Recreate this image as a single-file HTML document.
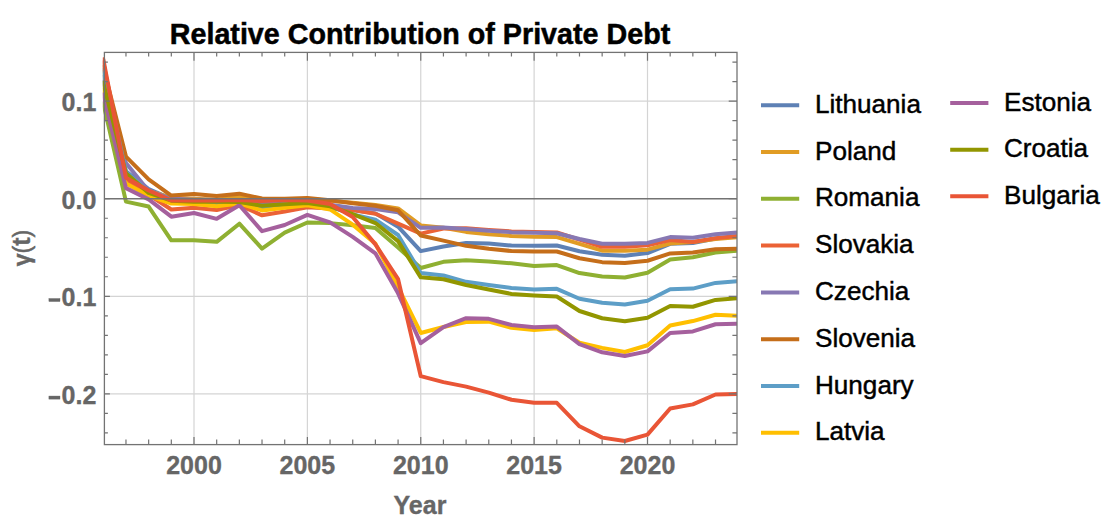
<!DOCTYPE html>
<html><head><meta charset="utf-8"><style>
html,body{margin:0;padding:0;background:#fff;width:1118px;height:524px;overflow:hidden}
svg{display:block}
</style></head><body>
<svg width="1118" height="524" viewBox="0 0 1118 524">
<rect width="1118" height="524" fill="#fff"/>
<defs><clipPath id="pc"><rect x="102.80" y="52.40" width="634.20" height="392.20"/></clipPath></defs>
<line x1="194.00" y1="52.40" x2="194.00" y2="444.60" stroke="#d4d4d4" stroke-width="1.2"/>
<line x1="307.38" y1="52.40" x2="307.38" y2="444.60" stroke="#d4d4d4" stroke-width="1.2"/>
<line x1="420.75" y1="52.40" x2="420.75" y2="444.60" stroke="#d4d4d4" stroke-width="1.2"/>
<line x1="534.12" y1="52.40" x2="534.12" y2="444.60" stroke="#d4d4d4" stroke-width="1.2"/>
<line x1="647.50" y1="52.40" x2="647.50" y2="444.60" stroke="#d4d4d4" stroke-width="1.2"/>
<line x1="104.40" y1="101.18" x2="737.00" y2="101.18" stroke="#d4d4d4" stroke-width="1.2"/>
<line x1="104.40" y1="296.28" x2="737.00" y2="296.28" stroke="#d4d4d4" stroke-width="1.2"/>
<line x1="104.40" y1="393.83" x2="737.00" y2="393.83" stroke="#d4d4d4" stroke-width="1.2"/>
<g clip-path="url(#pc)" fill="none" stroke-width="4.00" stroke-linejoin="round" stroke-linecap="round">
<polyline stroke="#5E81B5" points="103.30,76.79 125.97,171.42 148.65,188.97 171.32,198.73 194.00,200.68 216.68,200.68 239.35,199.71 262.02,201.66 284.70,200.68 307.38,199.71 330.05,208.00 352.73,209.95 375.40,213.36 398.08,226.73 420.75,251.11 443.43,246.43 466.10,242.92 488.78,243.51 511.45,245.55 534.12,245.85 556.80,245.55 579.48,251.21 602.15,254.82 624.83,255.80 647.50,253.07 670.17,243.80 692.85,242.92 715.52,238.53 738.20,236.19"/>
<polyline stroke="#E19C24" points="103.30,71.91 125.97,175.32 148.65,190.93 171.32,197.75 194.00,198.73 216.68,199.71 239.35,196.78 262.02,200.68 284.70,199.71 307.38,198.73 330.05,200.68 352.73,202.63 375.40,205.07 398.08,208.39 420.75,225.46 443.43,227.80 466.10,231.90 488.78,234.24 511.45,235.90 534.12,236.87 556.80,237.07 579.48,243.80 602.15,250.63 624.83,250.63 647.50,249.65 670.17,243.51 692.85,241.94 715.52,239.02 738.20,237.07"/>
<polyline stroke="#8FB032" points="103.30,103.13 125.97,201.66 148.65,206.53 171.32,240.29 194.00,240.29 216.68,241.85 239.35,223.70 262.02,248.68 284.70,232.68 307.38,222.53 330.05,223.12 352.73,225.36 375.40,228.00 398.08,247.50 420.75,267.99 443.43,261.84 466.10,260.28 488.78,261.45 511.45,263.31 534.12,266.04 556.80,265.06 579.48,273.06 602.15,276.48 624.83,277.55 647.50,272.77 670.17,259.60 692.85,257.26 715.52,252.48 738.20,250.63"/>
<polyline stroke="#EB6235" points="103.30,62.16 125.97,179.22 148.65,194.83 171.32,209.46 194.00,207.80 216.68,209.95 239.35,205.07 262.02,215.31 284.70,211.41 307.38,207.22 330.05,208.58 352.73,210.14 375.40,213.75 398.08,223.70 420.75,233.65 443.43,228.48 466.10,228.29 488.78,229.95 511.45,231.41 534.12,231.90 556.80,232.48 579.48,239.70 602.15,246.72 624.83,246.72 647.50,245.36 670.17,239.99 692.85,241.94 715.52,238.14 738.20,235.80"/>
<polyline stroke="#8778B3" points="103.30,81.67 125.97,162.93 148.65,190.93 171.32,198.73 194.00,199.71 216.68,199.71 239.35,200.68 262.02,203.22 284.70,199.71 307.38,199.71 330.05,204.78 352.73,207.90 375.40,208.97 398.08,212.39 420.75,227.80 443.43,227.60 466.10,228.97 488.78,230.73 511.45,232.19 534.12,232.68 556.80,233.26 579.48,239.02 602.15,243.80 624.83,243.80 647.50,242.92 670.17,237.07 692.85,237.75 715.52,234.24 738.20,232.29"/>
<polyline stroke="#C56E1A" points="103.30,67.04 125.97,156.59 148.65,179.42 171.32,195.51 194.00,194.05 216.68,196.00 239.35,193.66 262.02,198.53 284.70,198.73 307.38,197.95 330.05,200.29 352.73,203.31 375.40,205.75 398.08,210.24 420.75,235.51 443.43,240.58 466.10,245.85 488.78,248.77 511.45,251.02 534.12,251.50 556.80,251.50 579.48,258.24 602.15,262.14 624.83,263.11 647.50,260.77 670.17,253.46 692.85,252.48 715.52,249.16 738.20,248.68"/>
<polyline stroke="#5D9EC7" points="103.30,69.96 125.97,171.90 148.65,191.90 171.32,200.68 194.00,202.63 216.68,203.61 239.35,201.66 262.02,208.09 284.70,204.58 307.38,202.63 330.05,206.53 352.73,214.34 375.40,219.70 398.08,235.02 420.75,272.97 443.43,275.50 466.10,281.84 488.78,285.06 511.45,287.99 534.12,289.45 556.80,288.87 579.48,298.72 602.15,302.82 624.83,304.57 647.50,300.77 670.17,289.26 692.85,288.57 715.52,282.92 738.20,281.26"/>
<polyline stroke="#FFBF00" points="103.30,89.47 125.97,183.51 148.65,195.80 171.32,203.61 194.00,204.10 216.68,206.24 239.35,203.41 262.02,210.44 284.70,207.70 307.38,205.36 330.05,209.46 352.73,224.68 375.40,243.60 398.08,287.21 420.75,332.96 443.43,327.01 466.10,321.94 488.78,321.64 511.45,327.79 534.12,330.03 556.80,328.37 579.48,342.71 602.15,347.88 624.83,351.98 647.50,345.25 670.17,325.54 692.85,321.06 715.52,314.72 738.20,315.69"/>
<polyline stroke="#A5609D" points="103.30,94.35 125.97,188.10 148.65,199.41 171.32,216.68 194.00,212.97 216.68,218.83 239.35,205.17 262.02,231.12 284.70,224.97 307.38,214.83 330.05,222.43 352.73,236.87 375.40,253.36 398.08,293.35 420.75,343.10 443.43,327.01 466.10,318.23 488.78,318.81 511.45,324.96 534.12,327.30 556.80,326.62 579.48,344.18 602.15,352.27 624.83,355.98 647.50,351.40 670.17,332.96 692.85,331.40 715.52,324.28 738.20,323.69"/>
<polyline stroke="#929600" points="103.30,82.65 125.97,173.17 148.65,192.88 171.32,200.68 194.00,201.66 216.68,201.66 239.35,202.05 262.02,205.75 284.70,204.29 307.38,202.92 330.05,206.34 352.73,214.05 375.40,223.02 398.08,241.07 420.75,277.36 443.43,279.21 466.10,285.06 488.78,289.45 511.45,293.94 534.12,295.40 556.80,296.48 579.48,311.01 602.15,318.23 624.83,321.25 647.50,317.74 670.17,305.94 692.85,306.72 715.52,299.89 738.20,298.23"/>
<polyline stroke="#E95536" points="103.30,59.23 125.97,177.76 148.65,190.54 171.32,200.39 194.00,200.39 216.68,200.39 239.35,200.00 262.02,200.97 284.70,200.00 307.38,200.49 330.05,204.10 352.73,216.97 375.40,244.38 398.08,279.21 420.75,376.17 443.43,382.12 466.10,386.61 488.78,392.56 511.45,399.78 534.12,402.80 556.80,402.80 579.48,426.31 602.15,437.63 624.83,441.04 647.50,434.61 670.17,408.56 692.85,404.37 715.52,394.51 738.20,394.03"/>
</g>
<line x1="104.40" y1="198.73" x2="737.00" y2="198.73" stroke="#737373" stroke-width="1.3"/>
<rect x="104.40" y="52.40" width="632.60" height="392.20" fill="none" stroke="#737373" stroke-width="1.3"/>
<path d="M125.97 444.60v-5.20 M125.97 52.40v4.20 M148.65 444.60v-5.20 M148.65 52.40v4.20 M171.32 444.60v-5.20 M171.32 52.40v4.20 M194.00 444.60v-7.50 M194.00 52.40v8.40 M216.68 444.60v-5.20 M216.68 52.40v4.20 M239.35 444.60v-5.20 M239.35 52.40v4.20 M262.02 444.60v-5.20 M262.02 52.40v4.20 M284.70 444.60v-5.20 M284.70 52.40v4.20 M307.38 444.60v-7.50 M307.38 52.40v8.40 M330.05 444.60v-5.20 M330.05 52.40v4.20 M352.73 444.60v-5.20 M352.73 52.40v4.20 M375.40 444.60v-5.20 M375.40 52.40v4.20 M398.08 444.60v-5.20 M398.08 52.40v4.20 M420.75 444.60v-7.50 M420.75 52.40v8.40 M443.43 444.60v-5.20 M443.43 52.40v4.20 M466.10 444.60v-5.20 M466.10 52.40v4.20 M488.78 444.60v-5.20 M488.78 52.40v4.20 M511.45 444.60v-5.20 M511.45 52.40v4.20 M534.12 444.60v-7.50 M534.12 52.40v8.40 M556.80 444.60v-5.20 M556.80 52.40v4.20 M579.48 444.60v-5.20 M579.48 52.40v4.20 M602.15 444.60v-5.20 M602.15 52.40v4.20 M624.83 444.60v-5.20 M624.83 52.40v4.20 M647.50 444.60v-7.50 M647.50 52.40v8.40 M670.17 444.60v-5.20 M670.17 52.40v4.20 M692.85 444.60v-5.20 M692.85 52.40v4.20 M715.52 444.60v-5.20 M715.52 52.40v4.20 M104.40 432.85h3.50 M737.00 432.85h-4.60 M104.40 413.34h3.50 M737.00 413.34h-4.60 M104.40 393.83h5.50 M737.00 393.83h-8.30 M104.40 374.32h3.50 M737.00 374.32h-4.60 M104.40 354.81h3.50 M737.00 354.81h-4.60 M104.40 335.30h3.50 M737.00 335.30h-4.60 M104.40 315.79h3.50 M737.00 315.79h-4.60 M104.40 296.28h5.50 M737.00 296.28h-8.30 M104.40 276.77h3.50 M737.00 276.77h-4.60 M104.40 257.26h3.50 M737.00 257.26h-4.60 M104.40 237.75h3.50 M737.00 237.75h-4.60 M104.40 218.24h3.50 M737.00 218.24h-4.60 M104.40 198.73h5.50 M737.00 198.73h-8.30 M104.40 179.22h3.50 M737.00 179.22h-4.60 M104.40 159.71h3.50 M737.00 159.71h-4.60 M104.40 140.20h3.50 M737.00 140.20h-4.60 M104.40 120.69h3.50 M737.00 120.69h-4.60 M104.40 101.18h5.50 M737.00 101.18h-8.30 M104.40 81.67h3.50 M737.00 81.67h-4.60 M104.40 62.16h3.50 M737.00 62.16h-4.60" stroke="#737373" stroke-width="1.2" fill="none"/>
<g font-family="Liberation Sans, sans-serif" font-weight="bold" fill="#666" stroke="#666" stroke-width="0.35" font-size="25px">
<text x="194.00" y="474" text-anchor="middle">2000</text>
<text x="307.38" y="474" text-anchor="middle">2005</text>
<text x="420.75" y="474" text-anchor="middle">2010</text>
<text x="534.12" y="474" text-anchor="middle">2015</text>
<text x="647.50" y="474" text-anchor="middle">2020</text>
<text x="96.3" y="111.18" text-anchor="end">0.1</text>
<text x="96.3" y="208.73" text-anchor="end">0.0</text>
<text x="96.3" y="306.28" text-anchor="end">0.1</text>
<rect x="48.9" y="298.48" width="11.1" height="3.1" fill="#666"/>
<text x="96.3" y="403.83" text-anchor="end">0.2</text>
<rect x="48.9" y="396.03" width="11.1" height="3.1" fill="#666"/>
<text x="420" y="514.4" text-anchor="middle">Year</text>
<text transform="translate(29.6,248) rotate(-90)" text-anchor="middle"><tspan font-size="23px">γ</tspan><tspan font-weight="normal" stroke-width="0.5" font-size="23px">(</tspan>t<tspan font-weight="normal" stroke-width="0.5" font-size="23px">)</tspan></text>
</g>
<text x="420" y="44.2" text-anchor="middle" font-family="Liberation Sans, sans-serif" font-weight="bold" font-size="28.7px" fill="#000" stroke="#000" stroke-width="0.5">Relative Contribution of Private Debt</text>
<g font-family="Liberation Sans, sans-serif" font-size="26.1px" fill="#000" stroke="#000" stroke-width="0.45">
<line x1="761" y1="105.20" x2="799.2" y2="105.20" stroke="#5E81B5" stroke-width="4"/>
<text x="815" y="112.80">Lithuania</text>
<line x1="761" y1="152.00" x2="799.2" y2="152.00" stroke="#E19C24" stroke-width="4"/>
<text x="815" y="159.60">Poland</text>
<line x1="761" y1="198.80" x2="799.2" y2="198.80" stroke="#8FB032" stroke-width="4"/>
<text x="815" y="206.40">Romania</text>
<line x1="761" y1="245.60" x2="799.2" y2="245.60" stroke="#EB6235" stroke-width="4"/>
<text x="815" y="253.20">Slovakia</text>
<line x1="761" y1="292.40" x2="799.2" y2="292.40" stroke="#8778B3" stroke-width="4"/>
<text x="815" y="300.00">Czechia</text>
<line x1="761" y1="339.20" x2="799.2" y2="339.20" stroke="#C56E1A" stroke-width="4"/>
<text x="815" y="346.80">Slovenia</text>
<line x1="761" y1="386.00" x2="799.2" y2="386.00" stroke="#5D9EC7" stroke-width="4"/>
<text x="815" y="393.60">Hungary</text>
<line x1="761" y1="432.80" x2="799.2" y2="432.80" stroke="#FFBF00" stroke-width="4"/>
<text x="815" y="440.40">Latvia</text>
<line x1="950.2" y1="103.10" x2="988.4" y2="103.10" stroke="#A5609D" stroke-width="4"/>
<text x="1004" y="110.70">Estonia</text>
<line x1="950.2" y1="149.70" x2="988.4" y2="149.70" stroke="#929600" stroke-width="4"/>
<text x="1004" y="157.30">Croatia</text>
<line x1="950.2" y1="196.30" x2="988.4" y2="196.30" stroke="#E95536" stroke-width="4"/>
<text x="1004" y="203.90">Bulgaria</text>
</g>
</svg>
</body></html>
